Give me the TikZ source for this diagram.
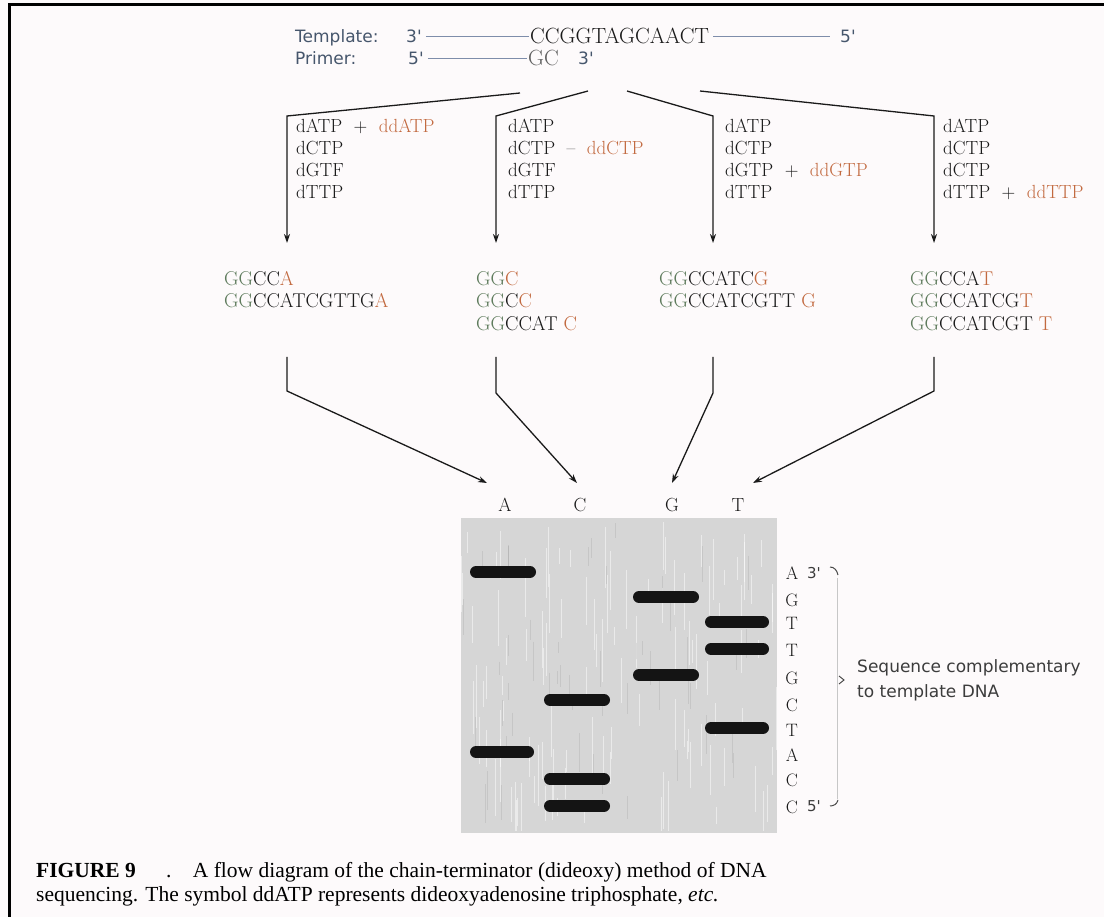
\documentclass[tikz,border=0pt]{standalone}
\usepackage{fontspec}
\newfontfamily\sansf{DejaVu Sans}
\newfontfamily\capf{Liberation Serif}
\usetikzlibrary{arrows.meta}
\definecolor{bgc}{HTML}{FDFAFB}
\definecolor{slate}{HTML}{46566C}
\definecolor{tlc}{HTML}{7E8DAA}
\definecolor{ddc}{HTML}{C2693F}
\definecolor{grn}{HTML}{5E7B5C}
\definecolor{ink}{HTML}{1A1A1A}
\definecolor{gelc}{HTML}{D6D6D6}
\tikzset{
  lab/.style={font=\sansf\fontsize{17}{20}\selectfont, text=slate, inner sep=0pt},
  seqtxt/.style={font=\fontsize{22}{24}\selectfont, text=ink, inner sep=0pt},
  reag/.style={font=\fontsize{19}{22}\selectfont, text=ink, inner sep=0pt, align=left},
  frag/.style={font=\fontsize{20}{22.5}\selectfont, text=ink, inner sep=0pt, align=left},
  tline/.style={draw=tlc, line width=1.4pt},
  branch/.style={draw=ink, line width=1.3pt},
  arr/.style={branch, -{Stealth[length=9pt,width=6pt]}},
  band/.style={line width=12pt, line cap=round, draw=black!92},
  rlet/.style={font=\fontsize{18}{20}\selectfont, text=ink, inner sep=0pt},
  note/.style={font=\sansf\fontsize{17}{25}\selectfont, text=ink!85, inner sep=0pt, align=left},
  capt/.style={font=\capf\fontsize{21.5}{24}\selectfont, text=black, inner sep=0pt, align=left},
}
\newcommand{\ddend}[1]{\textcolor{ddc}{#1}}
\newcommand{\gpre}[1]{\textcolor{grn}{#1}}
\begin{document}
\begin{tikzpicture}[x=1pt,y=-1pt]
\useasboundingbox (0,0) rectangle (1104,917);
\fill[bgc] (0,0) rectangle (1104,917);
\draw[line width=3pt, black] (1104,4.5) -- (9.5,4.5) -- (9.5,917);

% template and primer
\node[lab, anchor=base west] (tpl) at (295,43) {Template:};
\node[lab, anchor=base west] (t3) at (406,43) {3'};
\node[seqtxt, anchor=base west] (tseq) at (530,44) {CCGGTAGCAACT};
\node[lab, anchor=base west] (t5) at (840,43) {5'};
\draw[tline] ([xshift=4pt]t3.east |- tseq.center) -- ([xshift=-1pt]tseq.west);
\draw[tline] ([xshift=4pt]tseq.east) -- ([xshift=-10pt]t5.west |- tseq.center);

\node[lab, anchor=base west] (ppl) at (295,65) {Primer:};
\node[lab, anchor=base west] (p5) at (408,65) {5'};
\node[seqtxt, anchor=base west, text=ink!70] (pseq) at (528,66) {GC};
\node[lab, anchor=base west] (p3) at (578,65) {3'};
\draw[tline] ([xshift=4pt]p5.east |- pseq.center) -- ([xshift=-1pt]pseq.west);

% branches
\coordinate (s1) at (520,93);  \coordinate (k1) at (287,116); \coordinate (e1) at (287,243);
\coordinate (s2) at (588,91);  \coordinate (k2) at (496,116); \coordinate (e2) at (496,243);
\coordinate (s3) at (627,91);  \coordinate (k3) at (713,116); \coordinate (e3) at (713,243);
\coordinate (s4) at (700,91);  \coordinate (k4) at (934,116); \coordinate (e4) at (934,243);
\draw[arr] (s1) -- (k1) -- (e1);
\draw[arr] (s2) -- (k2) -- (e2);
\draw[arr] (s3) -- (k3) -- (e3);
\draw[arr] (s4) -- (k4) -- (e4);

% reagent mixes
\node[reag, anchor=north west] (m1) at (296,119) {dATP\ \ +\ \ \ddend{ddATP}\\dCTP\\dGTF\\dTTP};
\node[reag, anchor=north west] (m2) at (508,119) {dATP\\dCTP\ \ --\ \ \ddend{ddCTP}\\dGTF\\dTTP};
\node[reag, anchor=north west] (m3) at (725,119) {dATP\\dCTP\\dGTP\ \ +\ \ \ddend{ddGTP}\\dTTP};
\node[reag, anchor=north west] (m4) at (943,119) {dATP\\dCTP\\dCTP\\dTTP\ \ +\ \ \ddend{ddTTP}};

% fragments
\node[frag, anchor=north west] (f1) at (224,271) {\gpre{GG}CC\ddend{A}\\\gpre{GG}CCATCGTTG\ddend{A}};
\node[frag, anchor=north west] (f2) at (476,271) {\gpre{GG}\ddend{C}\\\gpre{GG}C\ddend{C}\\\gpre{GG}CCAT \ddend{C}};
\node[frag, anchor=north west] (f3) at (659,271) {\gpre{GG}CCATC\ddend{G}\\\gpre{GG}CCATCGTT \ddend{G}};
\node[frag, anchor=north west] (f4) at (910,271) {\gpre{GG}CCA\ddend{T}\\\gpre{GG}CCATCG\ddend{T}\\\gpre{GG}CCATCGT \ddend{T}};

% lane labels
\node[reag] (la) at (505,505) {A};
\node[reag] (lc) at (580,505) {C};
\node[reag] (lg) at (672,505) {G};
\node[reag] (lt) at (738,505) {T};

% arrows to the gel
\coordinate (u1) at (287,357); \coordinate (v1) at (287,391); \coordinate (w1) at (487,483);
\coordinate (u2) at (496,357); \coordinate (v2) at (496,393); \coordinate (w2) at (577,483);
\coordinate (u3) at (713,357); \coordinate (v3) at (713,393); \coordinate (w3) at (672,483);
\coordinate (u4) at (934,357); \coordinate (v4) at (934,391); \coordinate (w4) at (753,483);
\draw[arr] (u1) -- (v1) -- (w1);
\draw[arr] (u2) -- (v2) -- (w2);
\draw[arr] (u3) -- (v3) -- (w3);
\draw[arr] (u4) -- (v4) -- (w4);

% gel
\fill[gelc] (461,518) rectangle (777,833);
\pgfmathsetseed{7}
\foreach \i in {1,...,110}{
  \pgfmathsetmacro{\gx}{461+316*rnd}
  \pgfmathsetmacro{\gy}{518+290*rnd}
  \pgfmathsetmacro{\gl}{15+50*rnd}
  \draw[white, opacity=0.5, line width=1pt] (\gx,\gy) -- (\gx,{min(\gy+\gl,831)});
}
\foreach \i in {1,...,50}{
  \pgfmathsetmacro{\gx}{461+316*rnd}
  \pgfmathsetmacro{\gy}{518+290*rnd}
  \pgfmathsetmacro{\gl}{10+30*rnd}
  \draw[black, opacity=0.07, line width=1pt] (\gx,\gy) -- (\gx,{min(\gy+\gl,831)});
}
% bands
\draw[band] (476,572) -- (530,572);
\draw[band] (476,752) -- (528,752);
\draw[band] (550,700) -- (604,700);
\draw[band] (550,779) -- (604,779);
\draw[band] (550,806) -- (604,806);
\draw[band] (639,597) -- (693,597);
\draw[band] (639,675) -- (693,675);
\draw[band] (711,622) -- (763,622);
\draw[band] (711,649) -- (763,649);
\draw[band] (711,728) -- (763,728);

% read-off sequence
\foreach \l/\y [count=\n] in {A/573,G/600,T/623,T/650,G/678,C/705,T/730,A/755,C/780,C/807}{
  \node[rlet] (r\n) at (792,\y) {\l};
}
\node[lab, text=ink!85, font=\sansf\fontsize{15}{18}\selectfont, anchor=west] (e3p) at (807,573) {3'};
\node[lab, text=ink!85, font=\sansf\fontsize{15}{18}\selectfont, anchor=west] (e5p) at (807,806) {5'};
\draw[black!22, line width=0.8pt] (837,578) -- (837,799);
\draw[ink!80, line width=1pt] (830,567) .. controls (834,567) and (837,570) .. (838,575);
\draw[ink!80, line width=1pt] (838,800) .. controls (837,804) and (834,806) .. (830,806);
\draw[ink!80, line width=1pt] (839,676) -- (844,680) -- (839,684);
\node[note, anchor=north west] (nt) at (857,659) {Sequence complementary\\to template DNA};

% caption
\node[capt, anchor=base west] (c1) at (36,877) {\textbf{FIGURE 9}\hspace{1.4em}.\hspace{1.0em}A flow diagram of the chain-terminator (dideoxy) method of DNA};
\node[capt, anchor=base west] (c2) at (36,901) {sequencing. The symbol ddATP represents dideoxyadenosine triphosphate, \textit{etc.}};
\end{tikzpicture}
\end{document}
